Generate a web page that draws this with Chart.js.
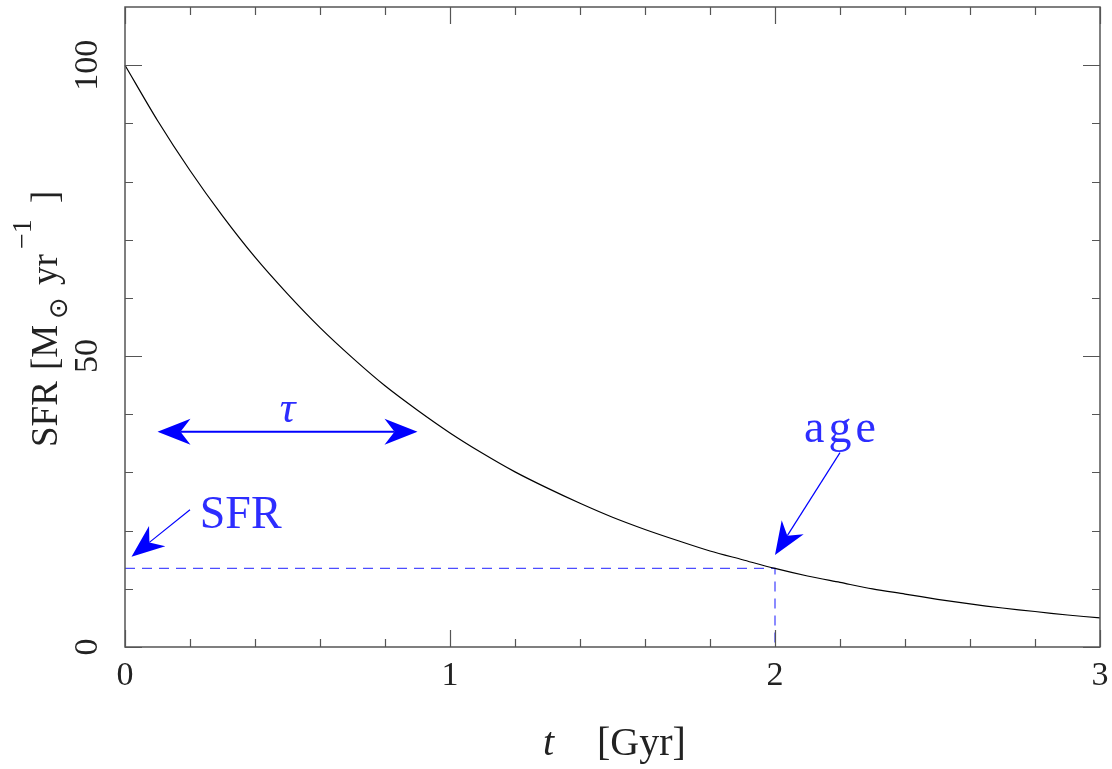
<!DOCTYPE html>
<html>
<head>
<meta charset="utf-8">
<script src="https://cdn.jsdelivr.net/npm/chart.js@4.4.1/dist/chart.umd.min.js"></script>
<style>
  html, body { margin: 0; padding: 0; background: #fff; }
  #wrap { width: 1112px; height: 769px; }
</style>
</head>
<body>
<div id="wrap"><canvas id="sfrChart" width="1112" height="769"></canvas></div>
<script>
// exponentially declining star formation history
const tGyr = [0, 0.1, 0.2, 0.3, 0.4, 0.5, 0.6, 0.7, 0.8, 0.9, 1.0,
              1.1, 1.2, 1.3, 1.4, 1.5, 1.6, 1.7, 1.8, 1.9, 2.0,
              2.1, 2.2, 2.3, 2.4, 2.5, 2.6, 2.7, 2.8, 2.9, 3.0];
const sfr = [100, 90.5, 81.9, 74.1, 67.0, 60.7, 54.9, 49.7, 44.9, 40.7, 36.8,
             33.3, 30.1, 27.3, 24.7, 22.3, 20.2, 18.3, 16.5, 15.0, 13.5,
             12.2, 11.1, 10.0, 9.1, 8.2, 7.4, 6.7, 6.1, 5.5, 5.0];

// dashed guide to the "age" point
const markerT = [0, 2, 2];
const markerSfr = [13.5, 13.5, 0];

// ticks
const xMajorTicks = [0, 1, 2, 3];
const xMinorTicks = [0.2, 0.4, 0.6, 0.8, 1.2, 1.4, 1.6, 1.8, 2.2, 2.4, 2.6, 2.8];
const yMajorTicks = [0, 50, 100];
const yMinorTicks = [10, 20, 30, 40, 60, 70, 80, 90];

// annotations (data coordinates)
const tauArrowT = [0.10, 0.90];
const tauArrowSfr = [37, 37];
const sfrArrowT = [0.20, 0.02];
const sfrArrowSfr = [23.6, 15.5];
const ageArrowT = [2.20, 2.00];
const ageArrowSfr = [33.4, 15.8];

const SERIF = '"Liberation Serif", "DejaVu Serif", serif';
const BLUE = '#0000ff';
const TEXTBLUE = '#2d2dff';
const AXIS = '#555555';

function arrowHead(ctx, x1, y1, x2, y2) {
  const L = 33, W = 13, N = 10;
  const a = Math.atan2(y2 - y1, x2 - x1);
  const c = Math.cos(a), s = Math.sin(a);
  ctx.beginPath();
  ctx.moveTo(x2, y2);
  ctx.lineTo(x2 - L * c + W * s, y2 - L * s - W * c);
  ctx.lineTo(x2 - (L - N) * c, y2 - (L - N) * s);
  ctx.lineTo(x2 - L * c - W * s, y2 - L * s + W * c);
  ctx.closePath();
  ctx.fill();
}

function arrow(ctx, x1, y1, x2, y2, lw, both) {
  const a = Math.atan2(y2 - y1, x2 - x1);
  const back = 23;
  ctx.lineWidth = lw;
  ctx.beginPath();
  if (both) ctx.moveTo(x1 + back * Math.cos(a), y1 + back * Math.sin(a));
  else ctx.moveTo(x1, y1);
  ctx.lineTo(x2 - back * Math.cos(a), y2 - back * Math.sin(a));
  ctx.stroke();
  arrowHead(ctx, x1, y1, x2, y2);
  if (both) arrowHead(ctx, x2, y2, x1, y1);
}

// stop Chart.js from reserving room for overhanging tick labels
function noOverhang(s) {
  s.paddingTop = 0; s.paddingBottom = 0; s.paddingLeft = 0; s.paddingRight = 0;
}

const framePlugin = {
  id: 'frame',
  afterDatasetsDraw(chart) {
    const ctx = chart.ctx;
    const ca = chart.chartArea;
    const xs = chart.scales.x, ys = chart.scales.y;
    ctx.save();

    // frame and inward ticks on all four sides
    ctx.strokeStyle = AXIS;
    ctx.lineWidth = 1.5;
    ctx.strokeRect(ca.left, ca.top, ca.right - ca.left, ca.bottom - ca.top);
    ctx.lineWidth = 1.2;
    const xt = (vals, len) => vals.forEach(v => {
      const px = Math.round(xs.getPixelForValue(v)) + 0.5;
      ctx.beginPath();
      ctx.moveTo(px, ca.bottom); ctx.lineTo(px, ca.bottom - len);
      ctx.moveTo(px, ca.top); ctx.lineTo(px, ca.top + len);
      ctx.stroke();
    });
    const yt = (vals, len) => vals.forEach(v => {
      const py = Math.round(ys.getPixelForValue(v)) + 0.5;
      ctx.beginPath();
      ctx.moveTo(ca.left, py); ctx.lineTo(ca.left + len, py);
      ctx.moveTo(ca.right, py); ctx.lineTo(ca.right - len, py);
      ctx.stroke();
    });
    xt(xMajorTicks, 17); xt(xMinorTicks, 8);
    yt(yMajorTicks, 17); yt(yMinorTicks, 8);

    // arrows
    ctx.strokeStyle = BLUE;
    ctx.fillStyle = BLUE;
    const P = (t, v) => [xs.getPixelForValue(t), ys.getPixelForValue(v)];
    let a = P(tauArrowT[0], tauArrowSfr[0]), b = P(tauArrowT[1], tauArrowSfr[1]);
    arrow(ctx, a[0], a[1], b[0], b[1], 2, true);
    a = P(sfrArrowT[0], sfrArrowSfr[0]); b = P(sfrArrowT[1], sfrArrowSfr[1]);
    arrow(ctx, a[0], a[1], b[0], b[1], 1.2, false);
    a = P(ageArrowT[0], ageArrowSfr[0]); b = P(ageArrowT[1], ageArrowSfr[1]);
    arrow(ctx, a[0], a[1], b[0], b[1], 1.2, false);

    // annotation labels
    ctx.fillStyle = TEXTBLUE;
    ctx.textBaseline = 'alphabetic';
    ctx.font = 'italic 44px ' + SERIF;
    ctx.textAlign = 'center';
    let p = P(0.50, 38.6);
    ctx.fillText('\u03c4', p[0], p[1]);
    ctx.font = '46px ' + SERIF;
    ctx.textAlign = 'left';
    p = P(0.23, 20.5);
    ctx.fillText('SFR', p[0], p[1]);
    ctx.textAlign = 'center';
    ctx.letterSpacing = '4px';
    p = P(2.2, 35.3);
    ctx.fillText('age', p[0] + 2, p[1]);
    ctx.letterSpacing = '0px';

    // axis titles
    ctx.fillStyle = '#222';
    ctx.textAlign = 'left';
    ctx.font = 'italic 40px ' + SERIF;
    ctx.fillText('t', 543, 755);
    ctx.font = '40px ' + SERIF;
    ctx.fillText('[Gyr]', 597, 755);

    ctx.translate(57, 447);
    ctx.rotate(-Math.PI / 2);
    ctx.font = '37px ' + SERIF;
    ctx.fillText('SFR', 0, 0);
    ctx.fillText('[M', 77, 0);
    ctx.fillText('yr', 162, 0);
    ctx.fillText(']', 244, 0);
    ctx.font = '26px "DejaVu Sans", sans-serif';
    ctx.fillText('\u2299', 128, 10);
    ctx.font = '28px ' + SERIF;
    ctx.fillText('\u22121', 198, -26);
    ctx.restore();
  }
};

new Chart(document.getElementById('sfrChart'), {
  type: 'line',
  data: {
    datasets: [
      {
        data: tGyr.map((t, i) => ({ x: t, y: sfr[i] })),
        borderColor: '#000',
        borderWidth: 1.2,
        pointRadius: 0,
        tension: 0.3,
        clip: false
      },
      {
        data: markerT.map((t, i) => ({ x: t, y: markerSfr[i] })),
        borderColor: '#4d4dff',
        borderWidth: 1.3,
        borderDash: [10, 7],
        pointRadius: 0,
        tension: 0
      }
    ]
  },
  options: {
    responsive: false,
    animation: false,
    devicePixelRatio: 1,
    layout: { padding: { top: 7, right: 12, left: 0, bottom: 0 } },
    plugins: { legend: { display: false }, tooltip: { enabled: false } },
    scales: {
      x: {
        type: 'linear',
        min: 0, max: 3,
        afterBuildTicks: s => { s.ticks = xMajorTicks.map(v => ({ value: v })); },
        afterFit: s => { s.height = 122; noOverhang(s); },
        grid: { display: false, drawTicks: false },
        border: { display: false },
        ticks: { padding: 9, color: '#222', maxRotation: 0, font: { family: SERIF, size: 34 } }
      },
      y: {
        type: 'linear',
        min: 0, max: 110,
        afterBuildTicks: s => { s.ticks = yMajorTicks.map(v => ({ value: v })); },
        afterFit: s => { s.width = 125; noOverhang(s); },
        grid: { display: false, drawTicks: false },
        border: { display: false },
        ticks: { padding: 11, crossAlign: 'center', minRotation: 90, maxRotation: 90,
                 color: '#222', font: { family: SERIF, size: 34 } }
      }
    }
  },
  plugins: [framePlugin]
});
</script>
</body>
</html>
